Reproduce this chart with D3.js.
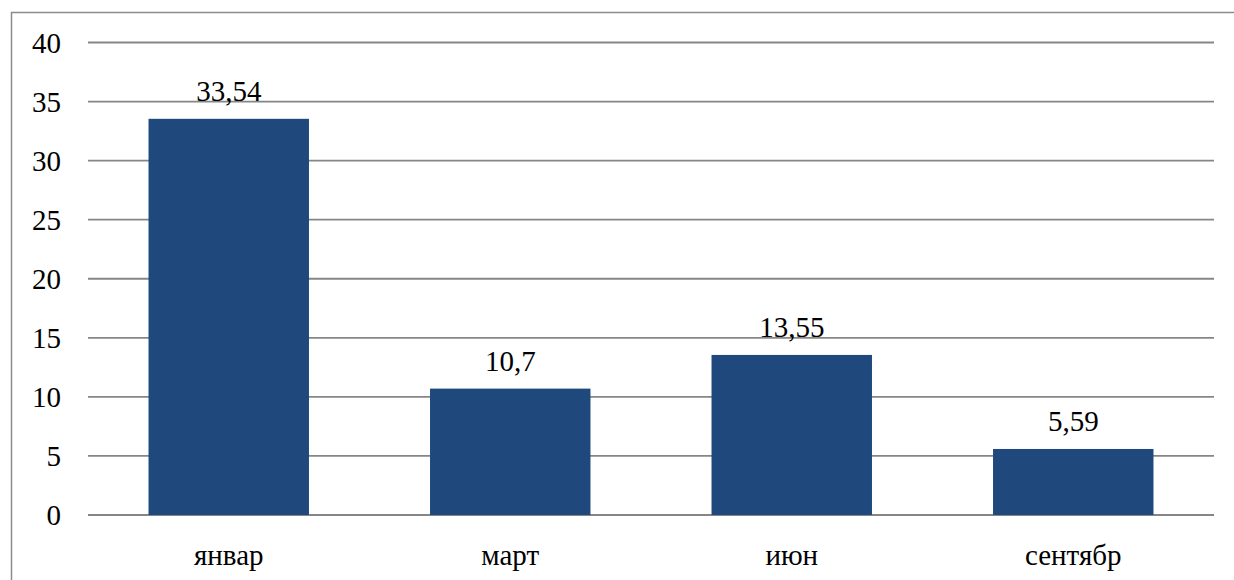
<!DOCTYPE html>
<html>
<head>
<meta charset="utf-8">
<script src="https://cdn.jsdelivr.net/npm/d3@7"></script>
</head>
<body style="margin:0">
<svg id="chart" width="1234" height="580"></svg>
<script>
// Monthly values shown as columns
const months = ["январ", "март", "июн", "сентябр"];
const values = [33.54, 10.7, 13.55, 5.59];
const valueLabels = ["33,54", "10,7", "13,55", "5,59"];
const yTicks = [0, 5, 10, 15, 20, 25, 30, 35, 40];

const svg = d3.select("#chart");
const family = "Liberation Serif";

// Outer frame
svg.append("rect")
  .attr("x", 11.5).attr("y", 12.5)
  .attr("width", 1240).attr("height", 600)
  .attr("fill", "none")
  .attr("stroke", "#8c8c8c")
  .attr("stroke-width", 1.5);

const plot = { left: 88, right: 1214, top: 42.5, bottom: 515 };

const x = d3.scaleBand()
  .domain(months)
  .range([plot.left, plot.right])
  .paddingInner(0.43)
  .paddingOuter(0.215);

const y = d3.scaleLinear()
  .domain([0, 40])
  .range([plot.bottom, plot.top]);

// Horizontal gridlines
svg.selectAll("line.grid")
  .data(yTicks)
  .join("line")
  .attr("class", "grid")
  .attr("x1", plot.left).attr("x2", plot.right)
  .attr("y1", d => y(d)).attr("y2", d => y(d))
  .attr("stroke", "#868686")
  .attr("stroke-width", 1.8);

// Columns
svg.selectAll("rect.bar")
  .data(values)
  .join("rect")
  .attr("class", "bar")
  .attr("x", (d, i) => x(months[i]))
  .attr("width", x.bandwidth())
  .attr("y", d => y(d))
  .attr("height", d => y(0) - y(d))
  .attr("fill", "#1F497D");

// Y tick labels
svg.selectAll("text.ytick")
  .data(yTicks)
  .join("text")
  .attr("class", "ytick")
  .attr("x", 61)
  .attr("y", d => y(d) + 10)
  .attr("text-anchor", "end")
  .attr("font-size", 29)
  .style("font-family", `"${family}"`)
  .text(d => d);

// Value labels above columns
svg.selectAll("text.val")
  .data(values)
  .join("text")
  .attr("class", "val")
  .attr("x", (d, i) => x(months[i]) + x.bandwidth() / 2)
  .attr("y", d => y(d) - 18)
  .attr("text-anchor", "middle")
  .attr("font-size", 29)
  .style("font-family", `"${family}"`)
  .text((d, i) => valueLabels[i]);

// Category labels
svg.selectAll("text.cat")
  .data(months)
  .join("text")
  .attr("class", "cat")
  .attr("x", d => x(d) + x.bandwidth() / 2)
  .attr("y", 565)
  .attr("text-anchor", "middle")
  .attr("font-size", 29)
  .style("font-family", `"${family}"`)
  .text(d => d);
</script>
</body>
</html>
